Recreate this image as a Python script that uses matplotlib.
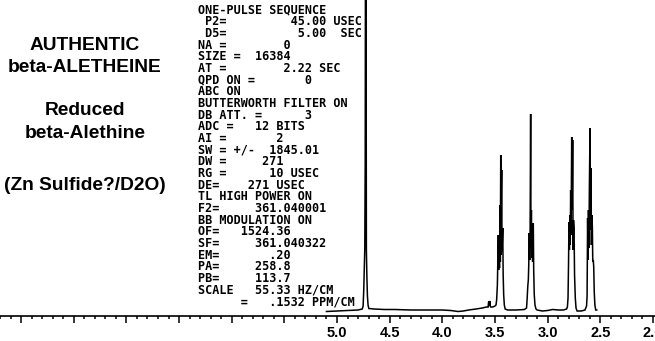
import numpy as np
import matplotlib.pyplot as plt

# Figure size in pixels
W, H = 655, 341

# Spectrum trace: chemical shift (ppm) and intensity above baseline
ppm = [5.10, 5.00, 4.90, 4.80, 4.76, 4.752, 4.746, 4.741, 4.736, 4.732, 4.729, 4.725,
       4.721, 4.716, 4.711, 4.705, 4.698, 4.65, 4.55, 4.45, 4.30, 4.15, 4.00, 3.92,
       3.85, 3.80, 3.75, 3.68, 3.62, 3.58,
       # small peak
       3.565, 3.560, 3.557, 3.554, 3.551, 3.548, 3.545, 3.540, 3.52, 3.50, 3.490,
       # multiplet 1
       3.484, 3.477, 3.472, 3.468, 3.465, 3.461, 3.457, 3.452, 3.449, 3.445, 3.442,
       3.439, 3.436, 3.433, 3.430, 3.426, 3.422, 3.417, 3.411, 3.403, 3.38, 3.30,
       3.22, 3.200,
       # multiplet 2
       3.195, 3.188, 3.183, 3.179, 3.174, 3.170, 3.166, 3.161, 3.158, 3.154, 3.150,
       3.146, 3.142, 3.136, 3.132, 3.127, 3.120, 3.110, 3.10, 3.05, 3.00, 2.95,
       2.90, 2.85, 2.82, 2.812,
       # multiplet 3
       2.806, 2.801, 2.797, 2.793, 2.789, 2.785, 2.781, 2.777, 2.771, 2.767, 2.762,
       2.758, 2.754, 2.749, 2.744, 2.737, 2.73, 2.72, 2.68, 2.645, 2.630,
       # multiplet 4
       2.625, 2.620, 2.616, 2.612, 2.608, 2.603, 2.597, 2.593, 2.588, 2.584, 2.580,
       2.575, 2.571, 2.566, 2.562, 2.557, 2.551, 2.543, 2.533]
intensity = [-1.5, -1, -0.5, 0, 1, 4, 20, 40, 62, 150, 420, 420,
             60, 32, 14, 5, 1.5, 1, 0.5, 0.5, 0, 0, 0, -0.5,
             -1.5, -1, 0, 1, 2, 3,
             3, 8, 4, 9, 5, 9, 4, 3, 3, 4, 5,
             10, 25, 55, 75, 40, 62, 42, 105, 48, 155, 55,
             115, 140, 58, 70, 82, 35, 15, 5, 1, 0, 0,
             0.5, 2,
             10, 24, 30, 45, 77, 50, 80, 196, 62, 100, 52,
             70, 48, 87, 40, 16, 5, 1, 0, -1, -0.5, 0.5,
             0, 0, 1, 3,
             12, 48, 88, 60, 95, 65, 120, 75, 173, 100, 170,
             60, 90, 82, 35, 12, 2, -1, -1, 0, 4,
             14, 92, 50, 100, 62, 125, 182, 80, 142, 65, 95,
             83, 48, 50, 43, 18, 5, 0, 0]

# Axis ticks
major_ticks = np.arange(2.0, 8.01, 0.5)
minor_ticks = np.arange(2.0, 8.21, 0.1)
labelled = [5.0, 4.5, 4.0, 3.5, 3.0, 2.5, 2.0]

# Sample description on the left
title_lines = ["AUTHENTIC", "beta-ALETHEINE", "Reduced", "beta-Alethine",
               "(Zn Sulfide?/D2O)"]

# Acquisition parameter printout
param_lines = [
    "ONE-PULSE SEQUENCE",
    " P2=         45.00 USEC",
    " D5=          5.00  SEC",
    "NA =        0",
    "SIZE =  16384",
    "AT =        2.22 SEC",
    "QPD ON =       0",
    "ABC ON",
    "BUTTERWORTH FILTER ON",
    "DB ATT. =      3",
    "ADC =   12 BITS",
    "AI =       2",
    "SW = +/-  1845.01",
    "DW =     271",
    "RG =      10 USEC",
    "DE=    271 USEC",
    "TL HIGH POWER ON",
    "F2=     361.040001",
    "BB MODULATION ON",
    "OF=   1524.36",
    "SF=     361.040322",
    "EM=       .20",
    "PA=     258.8",
    "PB=     113.7",
    "SCALE   55.33 HZ/CM",
    "      =   .1532 PPM/CM",
]

fig = plt.figure(figsize=(W / 100, H / 100), dpi=100)
fig.patch.set_facecolor("white")
ax = fig.add_axes([0, 0, 1, 1])

# x: 105.3 px per ppm, 5.0 ppm at x=337 ; y: baseline at pixel row 310
ax.set_xlim(5.0 + 337 / 105.3, 5.0 - (W - 337) / 105.3)
ax.set_ylim(310 - H, 310)

ax.plot(ppm, intensity, color="black", lw=1.1, solid_joinstyle="miter")

for s in ["top", "left", "right"]:
    ax.spines[s].set_visible(False)
ax.spines["bottom"].set_position(("data", -5.5))
ax.spines["bottom"].set_linewidth(1.2)
ax.set_yticks([])
ax.set_xticks(major_ticks)
ax.set_xticks(minor_ticks, minor=True)
ax.set_xticklabels([f"{t:.1f}" if round(t, 1) in labelled else "" for t in major_ticks],
                   fontsize=10.5, fontweight="bold", family="Liberation Sans")
ax.tick_params(axis="x", which="major", direction="out", length=5, width=1.1, pad=2.5)
ax.tick_params(axis="x", which="minor", direction="out", length=2.5, width=1.1)

# left description
title_y = [45, 67, 111, 133, 185]
for txt, y in zip(title_lines, title_y):
    fig.text(85 / W, 1 - y / H, txt, ha="center", va="center", fontsize=13.8,
             fontweight="bold", family="Liberation Sans")

# parameter printout
for i, line in enumerate(param_lines):
    y = 10 + 11.68 * i
    fig.text(198 / W, 1 - y / H, line, ha="left", va="center", fontsize=8.5,
             fontweight="bold", family="DejaVu Sans Mono")

fig.savefig("out.png", dpi=100, facecolor="white")
